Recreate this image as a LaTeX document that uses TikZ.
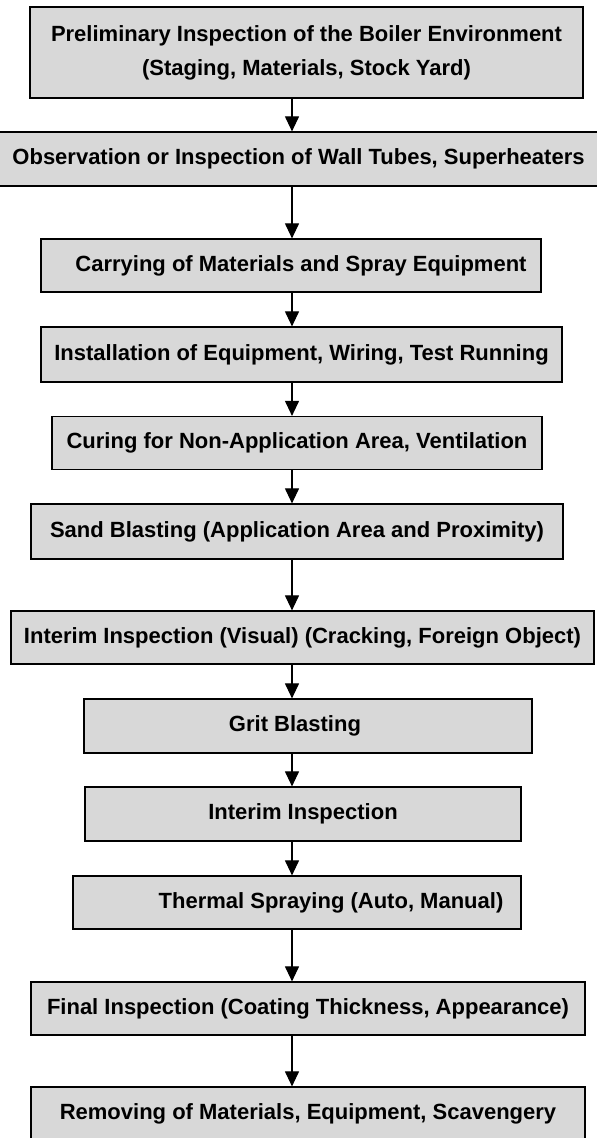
\documentclass[tikz,border=0pt]{standalone}
\usepackage{fontspec}
\setmainfont{Liberation Sans}
\definecolor{boxgray}{RGB}{216,216,216}
\usetikzlibrary{arrows.meta}
\tikzset{
>={Triangle[length=15pt,width=14pt]}, % makes the arrow heads bold
every node/.style={font=\fontsize{22}{34}\selectfont\bfseries}, % sets the text of each box
stepbox/.style={draw=black, line width=1.2pt, fill=boxgray, inner sep=0pt}, % sets the properties for each box
boxsize/.style 2 args={minimum width=#1pt, minimum height=#2pt}, % width and height of a box
flow/.style={->, line width=1.1pt}, % sets the properties for each arrow
}

\begin{document}
\begin{tikzpicture}[x=1pt, y=-1pt]
      \useasboundingbox (0,0) rectangle (597,1138);
      \coordinate (axis) at (292,0);

      \node[stepbox, boxsize={553}{91}, align=center] (prelim) at (306.5,52.5) {Preliminary Inspection of the Boiler Environment\\(Staging, Materials, Stock Yard)};
      \node[stepbox, boxsize={601}{54}] (observe) at (298.5,159) {Observation or Inspection of Wall Tubes, Superheaters};
      \node[stepbox, boxsize={500}{53}] (carry) at (291,265.5) {\hspace*{20pt}Carrying of Materials and Spray Equipment};
      \node[stepbox, boxsize={521}{55}] (install) at (301.5,354.5) {Installation of Equipment, Wiring, Test Running};
      \node[stepbox, boxsize={490}{53}] (curing) at (297,443) {Curing for Non-Application Area, Ventilation};
      \node[stepbox, boxsize={532}{55}] (sand) at (297,531.5) {Sand Blasting (Application Area and Proximity)};
      \node[stepbox, boxsize={583}{53}] (visual) at (302.5,637.5) {Interim Inspection (Visual) (Cracking, Foreign Object)};
      \node[stepbox, boxsize={448}{54}] (grit) at (308,726) {Grit Blasting\hspace*{26pt}};
      \node[stepbox, boxsize={436}{54}] (interim) at (303,814) {Interim Inspection};
      \node[stepbox, boxsize={448}{53}] (spray) at (297,902.5) {\hspace*{68pt}Thermal Spraying (Auto, Manual)};
      \node[stepbox, boxsize={554}{53}] (final) at (308,1008.5) {Final Inspection (Coating Thickness, Appearance)};
      \node[stepbox, boxsize={554}{54}] (remove) at (308,1114) {Removing of Materials, Equipment, Scavengery};

      \foreach \from/\to in {prelim/observe, observe/carry, carry/install, install/curing,
        curing/sand, sand/visual, visual/grit, grit/interim, interim/spray, spray/final, final/remove}
        \draw[flow] (\from.south -| axis) -- (\to.north -| axis);
    \end{tikzpicture}
\end{document}
